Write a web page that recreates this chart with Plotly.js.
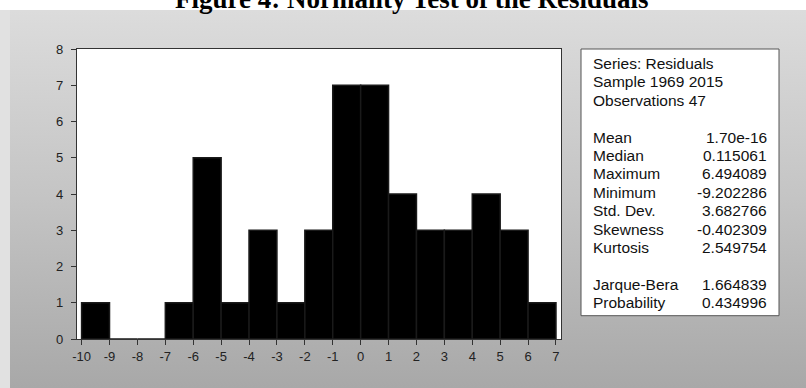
<!DOCTYPE html>
<html>
<head>
<meta charset="utf-8">
<script src="https://cdn.plot.ly/plotly-3.0.1.min.js"></script>
<style>
  html, body { margin: 0; padding: 0; background: #ffffff; }
  #wrap { position: relative; width: 806px; height: 388px; overflow: hidden; }
  #edge { position: absolute; left: 0; top: 10px; width: 10px; height: 378px; background: #e1e1e1; }
  #panel { position: absolute; left: 10px; top: 10px; width: 796px; height: 378px;
           background: linear-gradient(to bottom, #dcdcdc 0%, #c4c4c4 50%, #a8a8a8 100%); }
  #chart { position: absolute; left: 0; top: 0; width: 806px; height: 388px; }
</style>
</head>
<body>
<div id="wrap">
  <div id="edge"></div>
  <div id="panel"></div>
  <div id="chart"></div>
</div>
<script>
// Histogram of residuals: bins of width 1 starting at each value in binStart
const binStart = [-10, -9, -8, -7, -6, -5, -4, -3, -2, -1, 0, 1, 2, 3, 4, 5, 6];
const counts   = [  1,  0,  0,  1,  5,  1,  3,  1,  3,  7, 7, 4, 3, 3, 4, 3, 1];
const xTicks   = [-10, -9, -8, -7, -6, -5, -4, -3, -2, -1, 0, 1, 2, 3, 4, 5, 6, 7];
const yTicks   = [0, 1, 2, 3, 4, 5, 6, 7, 8];

// Descriptive statistics panel
const statHeader = ["Series: Residuals", "Sample 1969 2015", "Observations 47"];
const statNames  = ["Mean", "Median", "Maximum", "Minimum", "Std. Dev.", "Skewness", "Kurtosis"];
const statValues = ["1.70e-16", "0.115061", "6.494089", "-9.202286", "3.682766", "-0.402309", "2.549754"];
const testNames  = ["Jarque-Bera", "Probability"];
const testValues = ["1.664839", "0.434996"];

const chartTitle = "Figure 4: Normality Test of the Residuals";

// Plot frame in pixels
const W = 806, H = 388;
const L = 77, R = 561, T = 49, B = 339;
const px = v => (v - L) / (R - L);
const py = v => (B - v) / (B - T);

const trace = {
  type: "bar",
  x: binStart,
  y: counts,
  width: 1,
  offset: 0,
  marker: { color: "#000000", line: { color: "#1a1a1a", width: 1.5 } },
  hoverinfo: "x+y"
};

const tickFont = { family: "Liberation Sans, Arial, sans-serif", size: 13, color: "#222" };
const annotations = [];

// Heading, clipped by the top edge of the page
annotations.push({
  xref: "paper", yref: "paper",
  x: px(412), y: py(16),
  xanchor: "center", yanchor: "bottom",
  text: chartTitle, showarrow: false,
  font: { family: "Liberation Serif, Times New Roman, serif", size: 27, color: "#000", weight: "bold" }
});

// Count labels on the vertical axis, set a little further out than the default
yTicks.forEach(v => {
  annotations.push({
    xref: "paper", yref: "y", x: px(65), y: v,
    xanchor: "right", yanchor: "middle", showarrow: false,
    text: String(v), font: tickFont
  });
});

// Statistic rows: index 3 and 11 are blank separators
const rows = [];
statHeader.forEach(s => rows.push({ name: s, value: "" }));
rows.push(null);
statNames.forEach((s, i) => rows.push({ name: s, value: statValues[i] }));
rows.push(null);
testNames.forEach((s, i) => rows.push({ name: s, value: testValues[i] }));

const textFont = { family: "Liberation Sans, Arial, sans-serif", size: 15.5, color: "#111" };
const rowTop = 63.5, rowStep = 18.4;
rows.forEach((r, i) => {
  if (!r) return;
  const yc = rowTop + i * rowStep;
  annotations.push({
    xref: "paper", yref: "paper", x: px(590.5), y: py(yc),
    xanchor: "left", yanchor: "middle", showarrow: false,
    text: r.name, font: textFont
  });
  if (r.value) {
    annotations.push({
      xref: "paper", yref: "paper", x: px(769), y: py(yc),
      xanchor: "right", yanchor: "middle", showarrow: false,
      text: r.value, font: textFont
    });
  }
});

const layout = {
  width: W, height: H,
  margin: { l: L, r: W - R, t: T, b: H - B, pad: 0 },
  paper_bgcolor: "rgba(0,0,0,0)",
  plot_bgcolor: "#ffffff",
  showlegend: false,
  bargap: 0,
  xaxis: {
    range: [-10.165, 7.18],
    tickmode: "array", tickvals: xTicks, ticktext: xTicks.map(String),
    ticks: "outside", ticklen: 5, tickwidth: 1, tickcolor: "#333",
    showline: true, linecolor: "#333", linewidth: 1, mirror: true,
    showgrid: false, zeroline: false,
    tickfont: tickFont
  },
  yaxis: {
    range: [0, 8],
    tickmode: "array", tickvals: yTicks, showticklabels: false,
    ticks: "outside", ticklen: 5, tickwidth: 1, tickcolor: "#333",
    showline: true, linecolor: "#333", linewidth: 1, mirror: true,
    showgrid: false, zeroline: false
  },
  shapes: [{
    type: "rect", xref: "paper", yref: "paper",
    x0: px(581), x1: px(779), y0: py(315.7), y1: py(49),
    line: { color: "#555", width: 1 }, fillcolor: "#ffffff", layer: "below"
  }],
  annotations: annotations
};

Plotly.newPlot("chart", [trace], layout, { displayModeBar: false, staticPlot: true });
</script>
</body>
</html>
